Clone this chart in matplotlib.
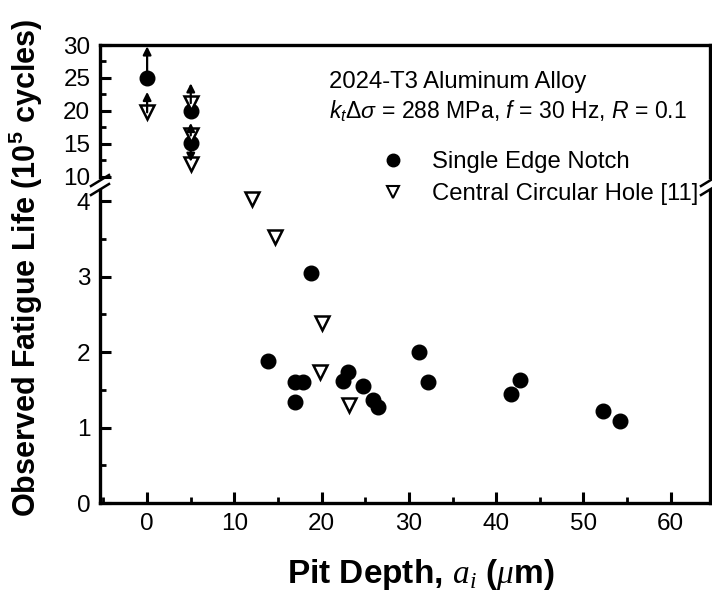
import matplotlib
matplotlib.use("Agg")
import matplotlib.pyplot as plt
from matplotlib.lines import Line2D
from matplotlib.ticker import MultipleLocator

plt.rcParams['font.family'] = ['Liberation Sans', 'DejaVu Sans']
plt.rcParams['mathtext.fontset'] = 'custom'
plt.rcParams['mathtext.rm'] = 'Liberation Sans'
plt.rcParams['mathtext.it'] = 'Liberation Sans:italic'
plt.rcParams['mathtext.bf'] = 'Liberation Sans:bold'
plt.rcParams['mathtext.cal'] = 'Liberation Serif:italic'

# Single edge notch specimens (lower, linear part of the axis)
sen_depth = [13.9, 17.0, 17.9, 16.95, 23.0, 22.45, 24.7, 25.9, 26.5, 18.8,
             31.2, 32.2, 41.7, 42.7, 52.2, 54.2]
sen_life = [1.88, 1.60, 1.60, 1.34, 1.73, 1.61, 1.55, 1.37, 1.27, 3.05,
            2.00, 1.60, 1.45, 1.63, 1.22, 1.08]

# Central circular hole specimens [11] (lower part)
cch_depth = [12.0, 14.7, 20.0, 19.8, 23.1]
cch_life = [4.03, 3.52, 2.38, 1.73, 1.30]

# Long lives (upper part of the broken axis)
sen_hi_depth = [0.0, 5.0, 5.0]
sen_hi_life = [25.0, 20.0, 15.1]
cch_hi_depth = [0.0, 5.0, 5.0, 5.0]
cch_hi_life = [19.8, 21.2, 16.3, 11.9]

# Run-out / scatter arrows: (depth, start, end)
arrow_depth = [0.0, 0.0, 5.0, 5.0, 5.0]
arrow_start = [25.0, 19.8, 21.2, 16.3, 15.1]
arrow_end = [29.8, 22.9, 24.2, 18.2, 12.3]

x_ticks = [0, 10, 20, 30, 40, 50, 60]
y_lo_ticks = [0, 1, 2, 3, 4]
y_hi_ticks = [10, 15, 20, 25, 30]

W, H = 712, 600
fig = plt.figure(figsize=(W / 100, H / 100), dpi=100)
L, R = 100 / W, 710 / W
ax_bot = fig.add_axes([L, 1 - 503 / H, R - L, (503 - 190) / H])
ax_top = fig.add_axes([L, 1 - 177 / H, R - L, (177 - 45) / H])

xlim = (-5.4, 64.5)
lw_spine = 2.4
for ax in (ax_bot, ax_top):
    ax.set_xlim(*xlim)
    for s in ax.spines.values():
        s.set_linewidth(lw_spine)
    ax.tick_params(which='major', direction='in', length=8, width=2.2,
                   labelsize=17.5, pad=7, right=False, top=False)
    ax.tick_params(which='minor', direction='in', length=4, width=2.0,
                   right=False, top=False)
    ax.set_facecolor('none')

ax_bot.set_ylim(0, (503 - 190) / 75.5)
ax_bot.set_yticks(y_lo_ticks)
ax_bot.yaxis.set_minor_locator(MultipleLocator(0.5))
ax_bot.set_xticks(x_ticks)
ax_bot.xaxis.set_minor_locator(MultipleLocator(5))
ax_bot.spines['top'].set_visible(False)

ax_top.set_ylim(10, 30)
ax_top.set_yticks(y_hi_ticks)
ax_top.yaxis.set_minor_locator(MultipleLocator(2.5))
ax_top.set_xticks([])
ax_top.spines['bottom'].set_visible(False)

circ = dict(marker='o', ls='none', color='black', ms=10.5)
tri = dict(marker='v', ls='none', mfc='white', mec='black', ms=10, mew=1.8)

ax_bot.plot(sen_depth, sen_life, **circ, zorder=3)
ax_bot.plot(cch_depth, cch_life, **tri, zorder=3)
ax_top.plot(sen_hi_depth, sen_hi_life, **circ, zorder=3)
ax_top.plot(cch_hi_depth, cch_hi_life, **tri, zorder=4)

for xd, y0, y1 in zip(arrow_depth, arrow_start, arrow_end):
    ax_top.annotate('', xy=(xd, y1), xytext=(xd, y0),
                    arrowprops=dict(arrowstyle='-|>', color='black', lw=1.6,
                                    mutation_scale=12, shrinkA=0, shrinkB=0),
                    zorder=5)

# Axis break marks on both sides
for xp in (L, R):
    for dy in (0, 9):
        y_px = 190 - dy
        fig.add_artist(Line2D([xp - 9 / W, xp + 9 / W],
                              [1 - (y_px + 5) / H, 1 - (y_px - 6) / H],
                              color='black', lw=1.8))

fig.text(329 / W, 1 - 88 / H, '2024-T3 Aluminum Alloy', fontsize=17.2,
         ha='left', va='baseline')
fig.text(329 / W, 1 - 118 / H,
         r'$k_t\Delta\sigma$ = 288 MPa, $f$ = 30 Hz, $R$ = 0.1',
         fontsize=16.6, ha='left', va='baseline')

handles = [Line2D([], [], marker='o', ls='none', color='black', ms=9),
           Line2D([], [], marker='v', ls='none', mfc='white', mec='black',
                  ms=8, mew=1.5)]
fig.legend(handles, ['Single Edge Notch', 'Central Circular Hole [11]'],
           loc='upper left', bbox_to_anchor=(383 / W, 1 - 151 / H),
           frameon=False, fontsize=17.2, handlelength=0.8,
           handletextpad=1.25, labelspacing=0.42, borderpad=0,
           borderaxespad=0)

fig.text(26 / W, 1 - 268 / H,
         r'Observed Fatigue Life (10$^\mathbf{5}$ cycles)',
         rotation=90, fontsize=22, fontweight='bold', ha='center',
         va='center')
fig.text(421 / W, 1 - 574 / H,
         r'Pit Depth, $\mathcal{a}_\mathcal{i}$ ($\mathcal{\mu}$m)',
         fontsize=24, fontweight='bold', ha='center', va='center')

fig.savefig('out.png', dpi=100)
